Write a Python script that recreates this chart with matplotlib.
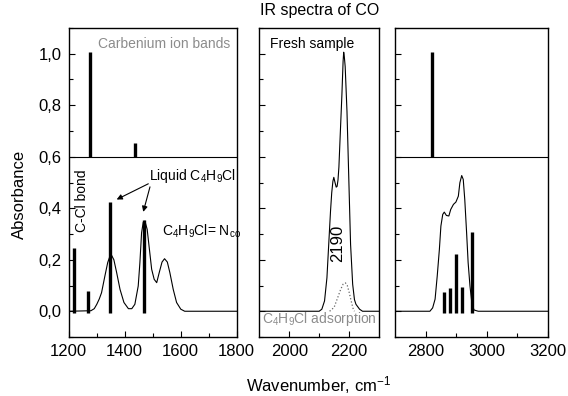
import matplotlib
matplotlib.use("Agg")
import matplotlib.pyplot as plt
from matplotlib.ticker import MultipleLocator, FixedLocator, FuncFormatter

plt.rcParams['font.family'] = ['Liberation Sans', 'DejaVu Sans']
plt.rcParams['mathtext.fontset'] = 'custom'
plt.rcParams['mathtext.rm'] = 'Liberation Sans'
plt.rcParams['mathtext.it'] = 'Liberation Sans:italic'
plt.rcParams['mathtext.default'] = 'regular'

# ---------------- data ----------------
# left panel (1200-1800)
left_curve_x = [1200, 1280, 1292, 1301, 1310, 1318, 1330, 1340, 1348, 1354, 1362, 1372,
                1384, 1398, 1414, 1426, 1437, 1449, 1455, 1461, 1467, 1473, 1481, 1489,
                1497, 1506, 1515, 1524, 1534, 1543, 1553, 1562, 1574, 1586, 1601, 1615, 1800]
left_curve_y = [0.0, 0.002, 0.01, 0.027, 0.048, 0.072, 0.137, 0.189, 0.214, 0.217, 0.2, 0.15,
                0.085, 0.034, 0.01, 0.01, 0.027, 0.098, 0.189, 0.305, 0.346, 0.35, 0.318, 0.24,
                0.163, 0.124, 0.111, 0.15, 0.191, 0.204, 0.191, 0.15, 0.085, 0.034, 0.008, 0.0, 0.0]
left_upper_x = [1275, 1436]
left_upper_h = [1.005, 0.655]
left_lower_x = [1219, 1268, 1347, 1468]
left_lower_h = [0.245, 0.08, 0.424, 0.353]

# middle panel (1900-2300)
mid_curve_x = [1900, 2100, 2109, 2118, 2126, 2132, 2138, 2142, 2146, 2149, 2153, 2157, 2160,
               2163, 2166, 2170, 2176, 2180, 2182, 2184, 2187, 2193, 2199, 2205, 2212, 2218,
               2223, 2235, 2245, 2300]
mid_curve_y = [0.0, 0.0, 0.008, 0.04, 0.13, 0.26, 0.389, 0.46, 0.505, 0.52, 0.5, 0.482, 0.485,
               0.51, 0.56, 0.673, 0.84, 0.97, 1.006, 0.99, 0.95, 0.776, 0.518, 0.26, 0.105, 0.045,
               0.027, 0.008, 0.0, 0.0]
mid_dot_x = [2135, 2150, 2162, 2172, 2180, 2188, 2194, 2200, 2207, 2213, 2218]
mid_dot_y = [0.0, 0.015, 0.053, 0.085, 0.105, 0.11, 0.1, 0.075, 0.04, 0.012, 0.0]

# right panel (2700-3200)
right_curve_x = [2700, 2814, 2823, 2831, 2838, 2845, 2850, 2856, 2861, 2868, 2876, 2882, 2891,
                 2899, 2907, 2912, 2918, 2923, 2928, 2934, 2939, 2945, 2951, 2958, 2972, 3200]
right_curve_y = [0.0, 0.0, 0.013, 0.047, 0.137, 0.24, 0.331, 0.376, 0.385, 0.372, 0.37, 0.395,
                 0.415, 0.424, 0.447, 0.499, 0.527, 0.512, 0.434, 0.305, 0.189, 0.098, 0.034,
                 0.005, 0.0, 0.0]
right_upper_x = [2820]
right_upper_h = [1.005]
right_lower_x = [2861, 2881, 2900, 2920, 2952]
right_lower_h = [0.075, 0.089, 0.221, 0.094, 0.307]

left_xticks = [1200, 1400, 1600, 1800]
mid_xticks = [2000, 2200]
right_xticks = [2800, 3000, 3200]
yticks = [0.0, 0.2, 0.4, 0.6, 0.8, 1.0]

# ---------------- figure ----------------
fig = plt.figure(figsize=(5.68, 3.96), dpi=100)
H = 396.0
W = 568.0
bottom = (H - 337) / H
height = 309 / H
axL = fig.add_axes([68.5 / W, bottom, 168 / W, height])
axM = fig.add_axes([259.3 / W, bottom, 119.7 / W, height])
axR = fig.add_axes([395 / W, bottom, 153 / W, height])

stick_lw = 2.4
curve_lw = 0.8

for ax in (axL, axM, axR):
    ax.set_ylim(-0.1, 1.1)
    ax.yaxis.set_major_locator(FixedLocator(yticks))
    ax.yaxis.set_minor_locator(MultipleLocator(0.1))
    ax.tick_params(which='both', direction='in', top=False, right=False)
    ax.tick_params(which='major', length=4, width=0.8, labelsize=12, pad=5)
    ax.tick_params(which='minor', length=3, width=0.8)
    for s in ax.spines.values():
        s.set_linewidth(1.0)

axL.set_xlim(1200, 1800)
axL.xaxis.set_major_locator(FixedLocator(left_xticks))
axL.xaxis.set_minor_locator(MultipleLocator(100))
axL.yaxis.set_major_formatter(FuncFormatter(lambda v, p: ('%.1f' % v).replace('.', ',')))

axM.set_xlim(1900, 2300)
axM.xaxis.set_major_locator(FixedLocator(mid_xticks))
axM.xaxis.set_minor_locator(FixedLocator([2100]))
axM.set_yticklabels([])

axR.set_xlim(2700, 3200)
axR.xaxis.set_major_locator(FixedLocator(right_xticks))
axR.xaxis.set_minor_locator(FixedLocator([2900, 3100]))
axR.set_yticklabels([])

# left panel
axL.axhline(0.6, color='black', lw=0.8)
axL.plot(left_curve_x, left_curve_y, color='black', lw=curve_lw)
axL.vlines(left_upper_x, 0.6, left_upper_h, color='black', lw=stick_lw)
axL.vlines(left_lower_x, -0.005, left_lower_h, color='black', lw=stick_lw)
axL.text(1777, 1.039, 'Carbenium ion bands', color='#8c8c8c', fontsize=10,
         ha='right', va='center')
axL.text(1247, 0.428, 'C-Cl bond', rotation=90, fontsize=10, ha='center', va='center')
axL.text(1489, 0.527, r'Liquid C$_4$H$_9$Cl', fontsize=10, ha='left', va='center')
axL.text(1533, 0.311, r'C$_4$H$_9$Cl= N$_{co}$', fontsize=10, ha='left', va='center')
arrow = dict(arrowstyle='-|>', color='black', lw=0.8, mutation_scale=8,
             shrinkA=0, shrinkB=0)
axL.annotate('', xy=(1372, 0.434), xytext=(1485, 0.495), arrowprops=arrow)
axL.annotate('', xy=(1467, 0.386), xytext=(1491, 0.483), arrowprops=arrow)

# middle panel
axM.plot(mid_curve_x, mid_curve_y, color='black', lw=curve_lw)
axM.plot(mid_dot_x, mid_dot_y, color='#666666', lw=0.9, ls=':')
axM.text(1936, 1.039, 'Fresh sample', fontsize=10, ha='left', va='center')
axM.text(2102, -0.031, r'C$_4$H$_9$Cl adsorption', color='#8c8c8c', fontsize=10,
         ha='center', va='center')
axM.text(2162, 0.264, '2190', rotation=90, fontsize=12, ha='center', va='center')

# right panel
axR.axhline(0.6, color='black', lw=0.8)
axR.plot(right_curve_x, right_curve_y, color='black', lw=curve_lw)
axR.vlines(right_upper_x, 0.6, right_upper_h, color='black', lw=stick_lw)
axR.vlines(right_lower_x, -0.005, right_lower_h, color='black', lw=stick_lw)

# figure-level texts
fig.text(320 / W, (H - 11) / H, 'IR spectra of CO', fontsize=11.5, ha='center', va='center')
fig.text(19 / W, (H - 194) / H, 'Absorbance', fontsize=12, rotation=90,
         ha='center', va='center')
fig.text(319 / W, (H - 385) / H, r'Wavenumber, cm$^{-1}$', fontsize=12,
         ha='center', va='center')

fig.savefig('out.png', dpi=100)
